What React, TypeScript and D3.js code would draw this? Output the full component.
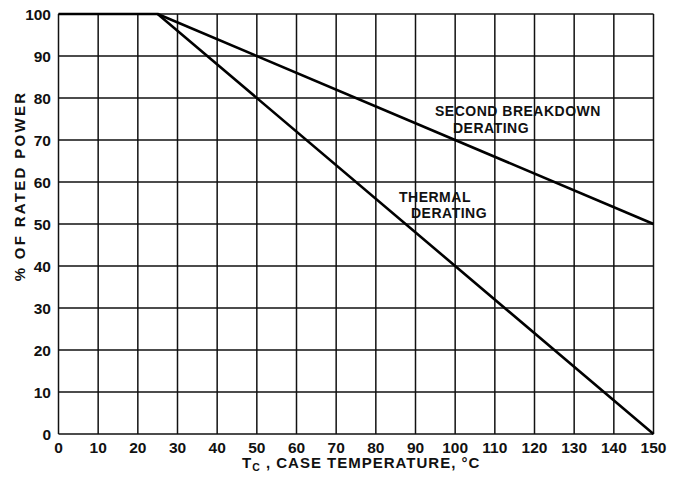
import React from "react";
import * as d3 from "d3";

const xTicks = [0, 10, 20, 30, 40, 50, 60, 70, 80, 90, 100, 110, 120, 130, 140, 150];
const yTicks = [0, 10, 20, 30, 40, 50, 60, 70, 80, 90, 100];
const thermalTemp = [0, 25, 150];
const thermalPower = [100, 100, 0];
const secondTemp = [25, 150];
const secondPower = [100, 50];

const W = 679, H = 477;
const left = 58.5, right = 653.5, top = 14, bottom = 434;

export default function App() {
  const x = d3.scaleLinear().domain([0, 150]).range([left, right]);
  const y = d3.scaleLinear().domain([0, 100]).range([bottom, top]);
  const line = d3.line<[number, number]>().x(d => x(d[0])).y(d => y(d[1]));
  const thermal = thermalTemp.map((t, i) => [t, thermalPower[i]] as [number, number]);
  const second = secondTemp.map((t, i) => [t, secondPower[i]] as [number, number]);
  const font = "'Liberation Sans', Arial, sans-serif";
  return (
    <div style={{ position: "fixed", left: 0, top: 0 }}>
      <svg width={W} height={H} style={{ display: "block", background: "#fff" }} fontFamily={font} fontWeight="bold">
        {xTicks.map(t => (
          <line key={"gx" + t} x1={x(t)} x2={x(t)} y1={top} y2={bottom} stroke="#111" strokeWidth={1.5} />
        ))}
        {yTicks.map(t => (
          <line key={"gy" + t} x1={left} x2={right} y1={y(t)} y2={y(t)} stroke="#111" strokeWidth={1.5} />
        ))}
        <path d={line(thermal) || ""} fill="none" stroke="#000" strokeWidth={2.6} />
        <path d={line(second) || ""} fill="none" stroke="#000" strokeWidth={2.6} />
        {xTicks.map(t => (
          <text key={"tx" + t} x={x(t)} y={452.5} textAnchor="middle" fontSize={15.5} fill="#111">{t}</text>
        ))}
        {yTicks.map(t => (
          <text key={"ty" + t} x={51} y={y(t) + 5.5} textAnchor="end" fontSize={15.5} fill="#111">{t}</text>
        ))}
        <g fontSize={14} letterSpacing={0.5} fill="#111">
          <text x={435} y={116}>SECOND BREAKDOWN</text>
          <text x={453} y={133}>DERATING</text>
          <text x={399} y={202}>THERMAL</text>
          <text x={411} y={218}>DERATING</text>
        </g>
        <text x={242} y={468} fontSize={15} letterSpacing={1} fill="#111">
          T<tspan fontSize={10.5} dy={3}>C</tspan><tspan dy={-3}> , CASE TEMPERATURE, °C</tspan>
        </text>
        <text transform="translate(25,186) rotate(-90)" textAnchor="middle" fontSize={15} letterSpacing={2.3} fill="#111">% OF RATED POWER</text>
      </svg>
    </div>
  );
}
